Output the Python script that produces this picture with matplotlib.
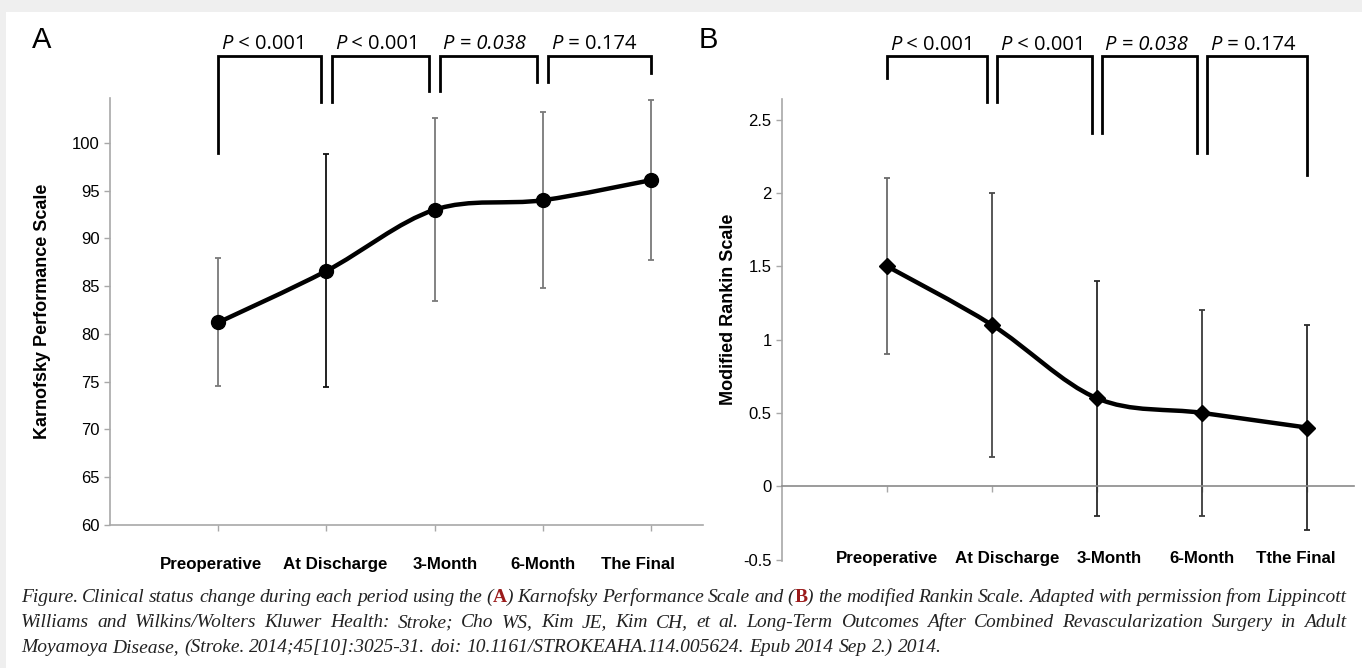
import matplotlib.pyplot as plt
from matplotlib.path import Path
from matplotlib.patches import PathPatch, Rectangle
from matplotlib.transforms import ScaledTranslation

# ---- data ----
periods_a = ["Preoperative", "At Discharge", "3-Month", "6-Month", "The Final"]
periods_b = ["Preoperative", "At Discharge", "3-Month", "6-Month", "Tthe Final"]
kps_mean = [81.2, 86.6, 93.0, 94.0, 96.1]
kps_sd = [6.7, 12.2, 9.6, 9.2, 8.4]
mrs_mean = [1.5, 1.1, 0.6, 0.5, 0.4]
mrs_sd = [0.6, 0.9, 0.8, 0.7, 0.7]
p_values = [
    [("P", "italic"), (" < 0.001", "normal")],
    [("P", "italic"), (" < 0.001", "normal")],
    [("P = 0.038", "italic")],
    [("P", "italic"), (" = 0.174", "normal")],
]
caption = [
    [("Figure. Clinical status change during each period using the (", False), ("A", True),
     (") Karnofsky Performance Scale and (", False), ("B", True),
     (") the modified Rankin Scale. Adapted with permission from Lippincott", False)],
    [("Williams and Wilkins/Wolters Kluwer Health: Stroke; Cho WS, Kim JE, Kim CH, et al. "
      "Long-Term Outcomes After Combined Revascularization Surgery in Adult", False)],
    [("Moyamoya Disease, (Stroke. 2014;45[10]:3025-31. doi: 10.1161/STROKEAHA.114.005624. "
      "Epub 2014 Sep 2.) 2014.", False)],
]

SANS = ["Liberation Sans", "DejaVu Sans"]
PFONT = ["Open Sans", "DejaVu Sans"]
SERIF = ["Liberation Serif", "DejaVu Serif"]
W, H = 1362, 668

fig = plt.figure(figsize=(W / 100, H / 100), dpi=100)
fig.patch.set_facecolor("#efefef")
fig.add_artist(Rectangle((6 / W, 0), 1, 1 - 12 / H, transform=fig.transFigure,
                         facecolor="white", edgecolor="none", zorder=0))


def smooth_line(ax, xs, ys, **kw):
    # Excel-like smoothed line: cubic bezier through the points
    pts = list(zip(xs, ys))
    verts = [pts[0]]
    codes = [Path.MOVETO]
    n = len(pts)
    for i in range(n - 1):
        p0 = pts[i - 1] if i > 0 else pts[i]
        p1, p2 = pts[i], pts[i + 1]
        p3 = pts[i + 2] if i + 2 < n else pts[i + 1]
        c1 = (p1[0] + (p2[0] - p0[0]) / 6, p1[1] + (p2[1] - p0[1]) / 6)
        c2 = (p2[0] - (p3[0] - p1[0]) / 6, p2[1] - (p3[1] - p1[1]) / 6)
        verts += [c1, c2, p2]
        codes += [Path.CURVE4] * 3
    ax.add_patch(PathPatch(Path(verts, codes), fill=False, **kw))


def brackets(ax, xs, top, ends):
    for i in range(len(xs) - 1):
        xl = xs[i] + (0.0 if i == 0 else 0.05)
        xr = xs[i + 1] - (0.0 if i == len(xs) - 2 else 0.05)
        ax.plot([xl, xl, xr, xr], [ends[i], top, top, ends[i + 1]], color="black",
                lw=2.0, clip_on=False, solid_joinstyle="miter")
        prev = None
        for txt, style in p_values[i]:
            if prev is None:
                prev = ax.annotate(txt, xy=(xl + 0.03, top), xytext=(0, 5),
                                   textcoords="offset points", ha="left", va="baseline",
                                   fontsize=14.5, style=style, family=PFONT,
                                   annotation_clip=False)
            else:
                prev = ax.annotate(txt, xy=(1, 0), xycoords=prev, ha="left", va="bottom",
                                   fontsize=14.5, style=style, family=PFONT)


def style_axes(ax, labels, ylabel, pad):
    for s in ["top", "right"]:
        ax.spines[s].set_visible(False)
    for s in ["left", "bottom"]:
        ax.spines[s].set_color("#a8a8a8")
        ax.spines[s].set_linewidth(1.2)
    ax.set_xticks(range(1, len(labels) + 1))
    ax.set_xticklabels(labels, fontsize=12.2, fontweight="bold", family=SANS)
    ax.tick_params(axis="both", colors="#a8a8a8", length=4, width=1)
    ax.tick_params(axis="x", pad=pad, labelcolor="black")
    ax.tick_params(axis="y", labelcolor="black", labelsize=12)
    for t in ax.get_yticklabels():
        t.set_family(SANS)
    ax.set_ylabel(ylabel, fontsize=13, fontweight="bold", family=SANS)


def nudge_labels(ax, shifts):
    # the original layout pushes some category labels sideways
    for t, dx in zip(ax.get_xticklabels(), shifts):
        t.set_transform(t.get_transform() + ScaledTranslation(dx / 100, 0, fig.dpi_scale_trans))


# ---- panel A ----
ax1 = fig.add_axes([110 / W, 1 - 525 / H, 593 / W, 427 / H])
xs = list(range(1, len(kps_mean) + 1))
bar_colors_a = ["#7a7a7a", "#111111", "#7a7a7a", "#7a7a7a", "#7a7a7a"]
for i in range(len(xs)):
    ax1.errorbar(xs[i], kps_mean[i], yerr=kps_sd[i], fmt="none", ecolor=bar_colors_a[i],
                 elinewidth=1.3, capsize=2.5, capthick=1.3, zorder=2)
smooth_line(ax1, xs, kps_mean, edgecolor="black", lw=3.2, zorder=3)
ax1.plot(xs, kps_mean, "o", color="black", ms=10, zorder=4)
ax1.set_xlim(0, 5.48)
ax1.set_ylim(60, 104.7)
ax1.set_yticks([60, 65, 70, 75, 80, 85, 90, 95, 100])
style_axes(ax1, periods_a, "Karnofsky Performance Scale", 19)
nudge_labels(ax1, [-7, 9, 11, 0, -13])
ax1.yaxis.set_label_coords(-0.1, 0.5)
brackets(ax1, xs, 109.1, [98.9, 104.3, 105.4, 106.4, 107.3])
fig.text(32 / W, 1 - 40 / H, "A", fontsize=21, family=SANS, va="center", ha="left")

# ---- panel B ----
ax2 = fig.add_axes([782 / W, 1 - 561 / H, 572 / W, 462 / H])
ax2.spines["bottom"].set_position(("data", 0))
bar_colors_b = ["#6a6a6a", "#4a4a4a", "#2a2a2a", "#3a3a3a", "#2a2a2a"]
for i in range(len(xs)):
    ax2.errorbar(xs[i], mrs_mean[i], yerr=mrs_sd[i], fmt="none", ecolor=bar_colors_b[i],
                 elinewidth=1.3, capsize=2.5, capthick=1.3, zorder=2)
smooth_line(ax2, xs, mrs_mean, edgecolor="black", lw=3.2, zorder=3)
ax2.plot(xs, mrs_mean, "D", color="black", ms=8.5, zorder=4)
ax2.set_xlim(0, 5.45)
ax2.set_ylim(-0.51, 2.64)
ax2.set_yticks([-0.5, 0, 0.5, 1, 1.5, 2, 2.5])
ax2.set_yticklabels(["-0.5", "0", "0.5", "1", "1.5", "2", "2.5"])
style_axes(ax2, periods_b, "Modified Rankin Scale", 43)
nudge_labels(ax2, [0, 15, 12, 0, -11])
ax2.spines["bottom"].set_color("#8a8a8a")
ax2.yaxis.set_label_coords(-0.078, 0.545)
brackets(ax2, xs, 2.93, [2.78, 2.62, 2.41, 2.27, 2.12])
fig.text(699 / W, 1 - 40 / H, "B", fontsize=21, family=SANS, va="center", ha="left")

# ---- caption, justified like the journal layout ----
renderer = fig.canvas.get_renderer()


def caption_line(runs, base_px, justify):
    words = [[]]
    for txt, red in runs:
        for k, part in enumerate(txt.split(" ")):
            if k > 0:
                words.append([])
            if part:
                words[-1].append((part, red))
    words = [w for w in words if w]
    kw = dict(fontsize=14, family=SERIF, va="baseline", ha="left")
    placed = []
    total = 0.0
    for w in words:
        items = []
        for part, red in w:
            if red:
                t = fig.text(0, 1 - base_px / H, part, color="#9b1b1b", fontweight="bold", **kw)
            else:
                t = fig.text(0, 1 - base_px / H, part, style="italic", color="#222222", **kw)
            wd = t.get_window_extent(renderer).width
            items.append((t, wd))
            total += wd
        placed.append(items)
    probe = fig.text(0, 0, "a a", style="italic", **kw)
    probe2 = fig.text(0, 0, "aa", style="italic", **kw)
    space = probe.get_window_extent(renderer).width - probe2.get_window_extent(renderer).width
    probe.remove()
    probe2.remove()
    x0, x1 = 21, 1346
    gap = (x1 - x0 - total) / (len(placed) - 1) if justify else space
    x = x0
    for items in placed:
        for t, wd in items:
            t.set_x(x / W)
            x += wd
        x += gap


caption_line(caption[0], 602, True)
caption_line(caption[1], 627, True)
caption_line(caption[2], 652, False)

fig.savefig("out.png", dpi=100)
